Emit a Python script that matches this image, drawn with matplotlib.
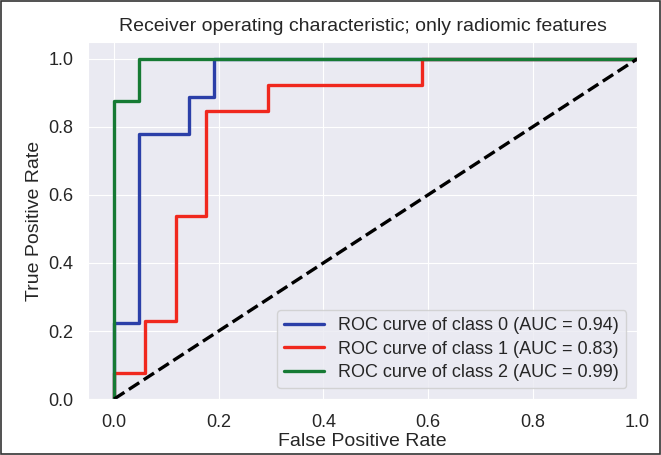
import numpy as np
import matplotlib.pyplot as plt
import seaborn as sns

# ROC step points
fpr0 = [0.0, 0.0, 1/21, 1/21, 3/21, 3/21, 4/21, 4/21, 1.0]
tpr0 = [0.0, 2/9, 2/9, 7/9, 7/9, 8/9, 8/9, 1.0, 1.0]
fpr1 = [0.0, 0.0, 1/17, 1/17, 2/17, 2/17, 3/17, 3/17, 5/17, 5/17, 10/17, 10/17, 1.0]
tpr1 = [0.0, 1/13, 1/13, 3/13, 3/13, 7/13, 7/13, 11/13, 11/13, 12/13, 12/13, 1.0, 1.0]
fpr2 = [0.0, 0.0, 1/21, 1/21, 1.0]
tpr2 = [0.0, 7/8, 7/8, 1.0, 1.0]
aucs = [0.94, 0.83, 0.99]
colors = ['#2b3fa8', '#f0281e', '#167a34']

sns.set_style('darkgrid')
plt.rcParams['font.family'] = ['Liberation Sans', 'DejaVu Sans']
fig = plt.figure(figsize=(6.61, 4.55), dpi=100)
ax = fig.add_axes([0.133, 0.123, 0.831, 0.785])

for i, (x, y) in enumerate([(fpr0, tpr0), (fpr1, tpr1), (fpr2, tpr2)]):
    ax.plot(x, y, color=colors[i], lw=2.4,
            label='ROC curve of class {0} (AUC = {1:0.2f})'.format(i, aucs[i]))
ax.plot([0, 1], [0, 1], 'k--', lw=2.4)

ax.set_xlim(-0.05, 1.0)
ax.set_ylim(0.0, 1.05)
ax.tick_params(labelsize=13, pad=7)
ax.set_xlabel('False Positive Rate', fontsize=14, labelpad=2)
ax.set_ylabel('True Positive Rate', fontsize=14, labelpad=4)
ax.set_title('Receiver operating characteristic; only radiomic features', fontsize=14, pad=8)
ax.legend(loc='lower right', fontsize=13, handlelength=2.2, labelspacing=0.35,
          borderaxespad=0.6)

# thin frame around the whole picture
fig.patches.append(plt.Rectangle((0.002, 0.003), 0.996, 0.994, transform=fig.transFigure,
                                 fill=False, edgecolor='#333333', lw=1.2))
fig.savefig('out.png', dpi=100)
